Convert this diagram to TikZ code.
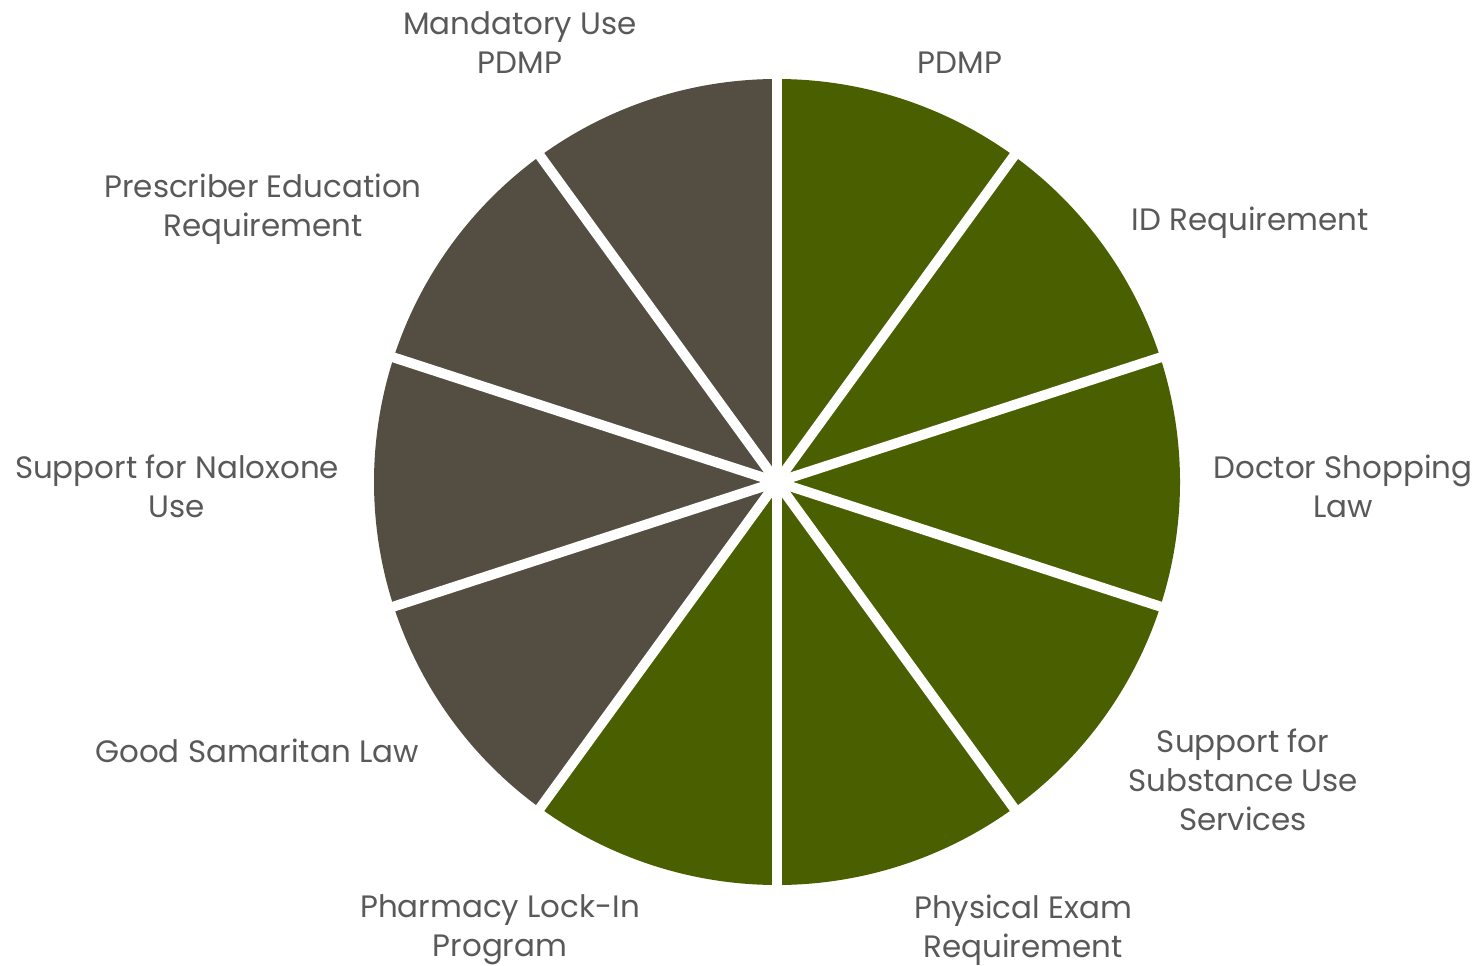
\documentclass[tikz,border=0pt]{standalone}
\usepackage{fontspec}
\setmainfont{Poppins}
\definecolor{piegreen}{HTML}{4A6000}
\definecolor{piegray}{HTML}{544E42}
\definecolor{labelgray}{HTML}{595959}

\begin{document}
\begin{tikzpicture}[x=0.02cm,y=0.02cm,
  lbl/.style={text=labelgray,align=center,font=\fontsize{17.6}{22.2}\selectfont,inner sep=0pt}]
\useasboundingbox[fill=white] (0,0) rectangle (1480,-966);
\coordinate (c) at (777,-482);
% slices, clockwise from the top
\foreach \i in {0,...,9}{
  \pgfmathsetmacro{\sa}{90-36*\i}
  \pgfmathsetmacro{\ea}{90-36*(\i+1)}
  \ifnum\i<6 \def\col{piegreen}\else \def\col{piegray}\fi
  \fill[\col] (c) -- ++(\sa:403) arc[start angle=\sa,end angle=\ea,radius=403] -- cycle;
}
% white gaps
\foreach \a in {90,54,18,-18,-54,-90,-126,-162,162,126}
  \draw[white,line width=0.2cm] (c) -- ++(\a:420);
% labels
\node[lbl] (mand) at (520,-43) {Mandatory Use\\PDMP};
\node[lbl] (pdmp) at (960,-63) {PDMP};
\node[lbl] (idreq) at (1250,-223) {ID Requirement};
\node[lbl] (doctor) at (1343,-486) {Doctor Shopping\\Law};
\node[lbl] (subst) at (1243,-780) {Support for\\Substance Use\\Services};
\node[lbl] (phys) at (1023,-930) {Physical Exam\\Requirement};
\node[lbl] (pharm) at (500,-930) {Pharmacy Lock-In\\Program};
\node[lbl] (samar) at (257,-751) {Good Samaritan Law};
\node[lbl] (nalox) at (177,-486) {Support for Naloxone\\Use};
\node[lbl] (presc) at (263,-209) {Prescriber Education\\Requirement};
\end{tikzpicture}
\end{document}
